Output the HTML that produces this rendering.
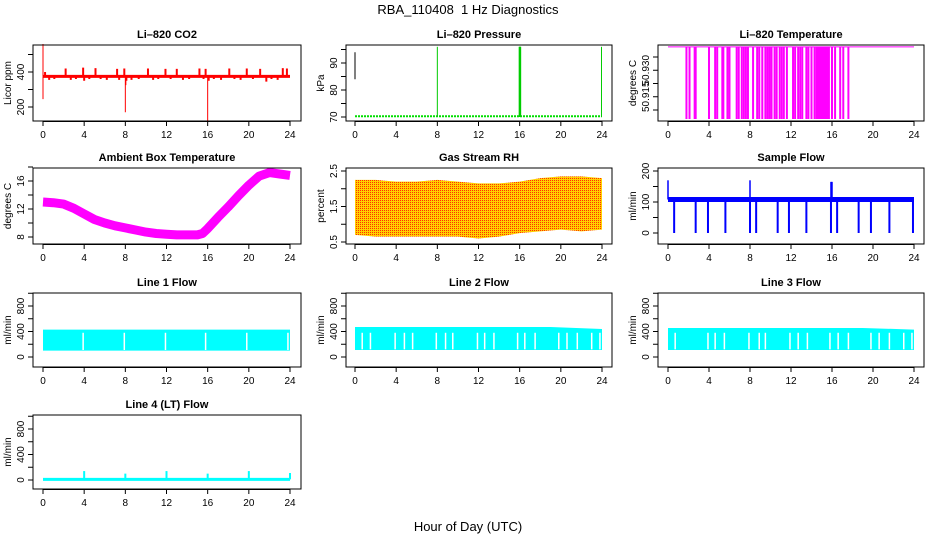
<!DOCTYPE html>
<html><head><meta charset="utf-8">
<style>
html,body{margin:0;padding:0;background:#fff;}
svg{display:block;font-family:"Liberation Sans","DejaVu Sans",sans-serif;}
</style></head>
<body>
<svg id="c" width="936" height="540" viewBox="0 0 936 540" xmlns="http://www.w3.org/2000/svg">
<defs>
<pattern id="rhpat" width="2" height="2" patternUnits="userSpaceOnUse">
<rect width="2" height="2" fill="#ffd000"/><rect width="1" height="1" fill="#ff3000"/>
</pattern>
</defs>
<text x="468" y="14" text-anchor="middle" font-size="13">RBA_110408&#160; 1 Hz Diagnostics</text>
<text x="468" y="531" text-anchor="middle" font-size="13">Hour of Day (UTC)</text>
</svg>
<script>
// ---------- data ----------
const xTicks = [0,4,8,12,16,20,24];
// CO2
const co2Base = 375;
const co2SpikeHours = [0.2,0.6,1.1,2.2,2.7,3.2,3.9,4.0,4.5,5.1,5.6,6.2,7.2,7.4,7.9,8.1,8.6,9.3,10.2,10.7,11.2,11.9,12.4,13.0,13.6,14.2,15.2,15.6,15.8,16.1,16.6,17.3,18.1,18.6,19.2,19.8,20.4,21.1,21.7,22.2,22.8,23.3,23.7];
const co2SpikeValues = [400,355,360,420,355,360,425,350,360,422,360,355,418,355,420,350,355,360,420,355,360,418,360,418,355,360,420,360,418,350,360,355,420,360,355,420,360,418,345,360,355,422,420];
const co2BigHours = [0.0,0.0,8.0,8.05,16.0];
const co2BigValues = [560,245,170,325,118];
// Pressure
const presBase = 70.3;
const presSpikeHours = [0.0,8.0,16.0,16.05,23.95];
const presSpikeLow = [84,70,70,70,70];
const presSpikeHigh = [94,96,96,96,96];
// Li-820 temperature
const tempHigh = 50.9388;
const tempLow = 50.9116;
const tempDropHours = [1.8,2.1,2.6,2.7,4.0,4.6,4.8,5.3,5.4,5.8,6.0,6.7,6.9,7.2,7.4,7.6,7.8,8.3,8.7,8.9,9.2,9.5,9.7,9.9,10.1,10.4,10.6,10.9,11.1,11.3,11.6,12.2,12.4,12.7,12.9,13.1,13.5,13.7,14.0,14.3,14.5,14.6,14.7,14.8,14.9,15.0,15.1,15.2,15.3,15.4,15.5,15.6,15.7,16.0,16.3,16.8,17.1,17.6];
// Ambient box temperature
const ambHours = [0,1,2,3,4,5,6,7,8,9,10,11,12,13,14,15,15.5,16,17,18,19,20,21,22,23,24];
const ambValues = [13.0,12.9,12.7,12.1,11.3,10.5,10.0,9.6,9.3,9.0,8.7,8.5,8.4,8.3,8.3,8.3,8.5,9.2,10.8,12.3,13.9,15.4,16.7,17.2,17.0,16.8];
// Gas stream RH
const rhHours = [0,2,4,6,8,10,12,14,16,18,20,22,24];
const rhUpper = [2.25,2.25,2.2,2.2,2.25,2.2,2.15,2.15,2.2,2.3,2.35,2.35,2.3];
const rhLower = [0.7,0.65,0.65,0.65,0.65,0.65,0.6,0.65,0.75,0.8,0.85,0.8,0.85];
// Sample flow
const sfBase = 108;
const sfDipHours = [0.6,2.7,3.9,5.6,8.0,8.6,10.7,11.8,13.5,15.9,16.5,18.6,19.8,21.6,23.9];
const sfSpikeHours = [0.0,8.0,15.9,16.0];
const sfSpikeValues = [170,170,165,165];
// Line flows
const l1Upper = 430, l1Lower = 100;
const l1GapHours = [3.9,7.9,11.9,15.8,19.8,23.8];
const l2Upper = [470,470,440];
const l2UpperHours = [0,19,24];
const l2Lower = 110;
const l2GapHours = [0.7,1.5,3.9,4.8,5.6,7.9,8.8,9.5,11.9,12.6,13.5,15.8,16.5,17.5,19.8,20.6,21.6,23.0,23.8];
const l3Upper = [455,455,430];
const l3UpperHours = [0,19,24];
const l3Lower = 110;
const l3GapHours = [0.7,3.9,4.6,5.5,7.9,8.9,9.5,11.9,12.7,13.6,15.8,16.6,17.6,19.8,20.6,21.6,23.0,23.8];
const l4Base = 10;
const l4SpikeHours = [4,8,12,16,20,24];
const l4SpikeValues = [140,100,140,100,140,110];

// ---------- helpers ----------
const svg = document.getElementById('c');
const NS = 'http://www.w3.org/2000/svg';
function mk(tag, attrs, parent){
  const e = document.createElementNS(NS, tag);
  for (const k in attrs) e.setAttribute(k, attrs[k]);
  (parent||svg).appendChild(e);
  return e;
}
const cols = [{l:33,r:301,x0:43,x24:290},{l:346,r:612,x0:355,x24:602},{l:658,r:924,x0:668,x24:914}];
const rows = [{t:45,b:121},{t:168,b:244},{t:293,b:367},{t:415,b:489}];

function panel(name, ci, ri, title, ytitle, v1, y1, v2, y2, yticks, ylabels){
  const c = cols[ci], r = rows[ri];
  const g = mk('g', {});
  
  
  const X = h => c.x0 + (c.x24 - c.x0) * h / 24;
  const Y = v => y1 + (y2 - y1) * (v - v1) / (v2 - v1);
  const t = mk('text', {x:(c.l+c.r)/2, y:r.t-7, 'text-anchor':'middle', 'font-size':11, 'font-weight':'bold'}, g);
  t.textContent = title;
  
  
  const marks = mk('g', {}, g);
  
  
  const box = mk('rect', {x:c.l, y:r.t, width:c.r-c.l, height:r.b-r.t, fill:'none', stroke:'#000', 'stroke-width':1}, g);
  
  
  const xa = mk('g', {}, g);
  
  
  mk('line', {x1:X(0), x2:X(24), y1:r.b+0.5, y2:r.b+0.5, stroke:'#000'}, xa);
  xTicks.forEach(h => {
    mk('line', {x1:X(h), x2:X(h), y1:r.b, y2:r.b+5, stroke:'#000'}, xa);
    const tx = mk('text', {x:X(h), y:r.b+17, 'text-anchor':'middle', 'font-size':10}, xa);
    tx.textContent = h;
  });
  const ya = mk('g', {}, g);
  
  
  yticks.forEach((v, i) => {
    const yy = Y(v);
    mk('line', {x1:c.l-5, x2:c.l, y1:yy, y2:yy, stroke:'#000'}, ya);
    if (ylabels[i] !== '') {
      const tx = mk('text', {x:c.l-9, y:yy, 'text-anchor':'middle', 'font-size':10, transform:'rotate(-90 '+(c.l-9)+' '+yy+')'}, ya);
      tx.textContent = ylabels[i];
    }
  });
  const yt = mk('text', {x:c.l-22, y:(r.t+r.b)/2, 'text-anchor':'middle', 'font-size':10, transform:'rotate(-90 '+(c.l-22)+' '+((r.t+r.b)/2)+')'}, g);
  yt.textContent = ytitle;
  
  
  return {X, Y, g:marks, c, r};
}
function vline(p, h, a, b, color, w){
  return mk('line', {x1:p.X(h), x2:p.X(h), y1:p.Y(a), y2:p.Y(b), stroke:color, 'stroke-width':w||1}, p.g);
}

// CO2
let p = panel('co2-panel', 0, 0, 'Li\u2013820 CO2', 'Licor ppm', 400, 72, 200, 107, [200,300,400,500], ['200','','400','']);
mk('line', {x1:p.X(0), x2:p.X(24), y1:p.Y(co2Base), y2:p.Y(co2Base), stroke:'#ff0000', 'stroke-width':3}, p.g);
co2SpikeHours.forEach((h,i)=>vline(p,h,co2Base,co2SpikeValues[i],'#ff0000',2));
co2BigHours.forEach((h,i)=>vline(p,h,co2Base,co2BigValues[i],'#ff0000',1));

// Pressure
p = panel('pressure-panel', 1, 0, 'Li\u2013820 Pressure', 'kPa', 90, 63, 70, 117, [70,75,80,85,90,95], ['70','','80','','90','']);
mk('line', {x1:p.X(0), x2:p.X(24), y1:p.Y(presBase), y2:p.Y(presBase), stroke:'#00dd00', 'stroke-width':2, 'stroke-dasharray':'2 1'}, p.g);
presSpikeHours.forEach((h,i)=>vline(p,h,presSpikeLow[i],presSpikeHigh[i],i===0?'#000':'#00cc00',i===2||i===3?2:1));

// Li-820 temperature
p = panel('li820-temp-panel', 2, 0, 'Li\u2013820 Temperature', 'degrees C', 50.935, 57, 50.915, 110, [50.935,50.930,50.925,50.920,50.915], ['','50.930','','50.915','']);
mk('line', {x1:p.X(0), x2:p.X(24), y1:p.Y(tempHigh), y2:p.Y(tempHigh), stroke:'#ff00ff', 'stroke-width':1}, p.g);
tempDropHours.forEach(h=>vline(p,h,tempHigh,tempLow,'#ff00ff',2));

// Ambient
p = panel('ambient-temp-panel', 0, 1, 'Ambient Box Temperature', 'degrees C', 16, 181, 8, 237, [8,10,12,14,16,18], ['8','','12','','16','']);
mk('polyline', {points: ambHours.map((h,i)=>p.X(h)+','+p.Y(ambValues[i])).join(' '), fill:'none', stroke:'#ff00ff', 'stroke-width':9, 'stroke-linejoin':'round'}, p.g);

// RH
p = panel('rh-panel', 1, 1, 'Gas Stream RH', 'percent', 2.5, 171, 0.5, 242, [0.5,1.0,1.5,2.0,2.5], ['0.5','','1.5','','2.5']);
const rhPts = rhHours.map((h,i)=>p.X(h)+','+p.Y(rhUpper[i])).concat(rhHours.slice().reverse().map((h,i)=>p.X(h)+','+p.Y(rhLower[rhHours.length-1-i])));
mk('polygon', {points: rhPts.join(' '), fill:'url(#rhpat)'}, p.g);

// Sample flow
p = panel('sample-flow-panel', 2, 1, 'Sample Flow', 'ml/min', 200, 171, 0, 233, [0,50,100,150,200], ['0','','100','','200']);
mk('line', {x1:p.X(0), x2:p.X(24), y1:p.Y(sfBase), y2:p.Y(sfBase), stroke:'#0000ff', 'stroke-width':5}, p.g);
sfDipHours.forEach(h=>vline(p,h,sfBase,0,'#0000ff',2));
sfSpikeHours.forEach((h,i)=>vline(p,h,sfBase,sfSpikeValues[i],'#0000ff',1.5));

// Line flows
function flowPanel(name, ci, ri, title, upHours, upVals, lower, gaps){
  const q = panel(name, ci, ri, title, 'ml/min', 800, ri===2?306:429, 0, ri===2?357:480, [0,200,400,600,800,1000], ['0','','400','','800','']);
  const pts = upHours.map((h,i)=>q.X(h)+','+q.Y(upVals[i])).concat([q.X(24)+','+q.Y(lower), q.X(0)+','+q.Y(lower)]);
  mk('polygon', {points: pts.join(' '), fill:'#00ffff'}, q.g);
  gaps.forEach(h=>vline(q,h,lower+10,380,'#ffffff',1.5));
  return q;
}
flowPanel('line1-flow-panel', 0, 2, 'Line 1 Flow', [0,24], [l1Upper,l1Upper], l1Lower, l1GapHours);
flowPanel('line2-flow-panel', 1, 2, 'Line 2 Flow', l2UpperHours, l2Upper, l2Lower, l2GapHours);
flowPanel('line3-flow-panel', 2, 2, 'Line 3 Flow', l3UpperHours, l3Upper, l3Lower, l3GapHours);

p = panel('line4-flow-panel', 0, 3, 'Line 4 (LT) Flow', 'ml/min', 800, 429, 0, 480, [0,200,400,600,800,1000], ['0','','400','','800','']);
mk('line', {x1:p.X(0), x2:p.X(24), y1:p.Y(l4Base), y2:p.Y(l4Base), stroke:'#00ffff', 'stroke-width':3}, p.g);
l4SpikeHours.forEach((h,i)=>vline(p,h,l4Base,l4SpikeValues[i],'#00ffff',2));
</script>
</body></html>
